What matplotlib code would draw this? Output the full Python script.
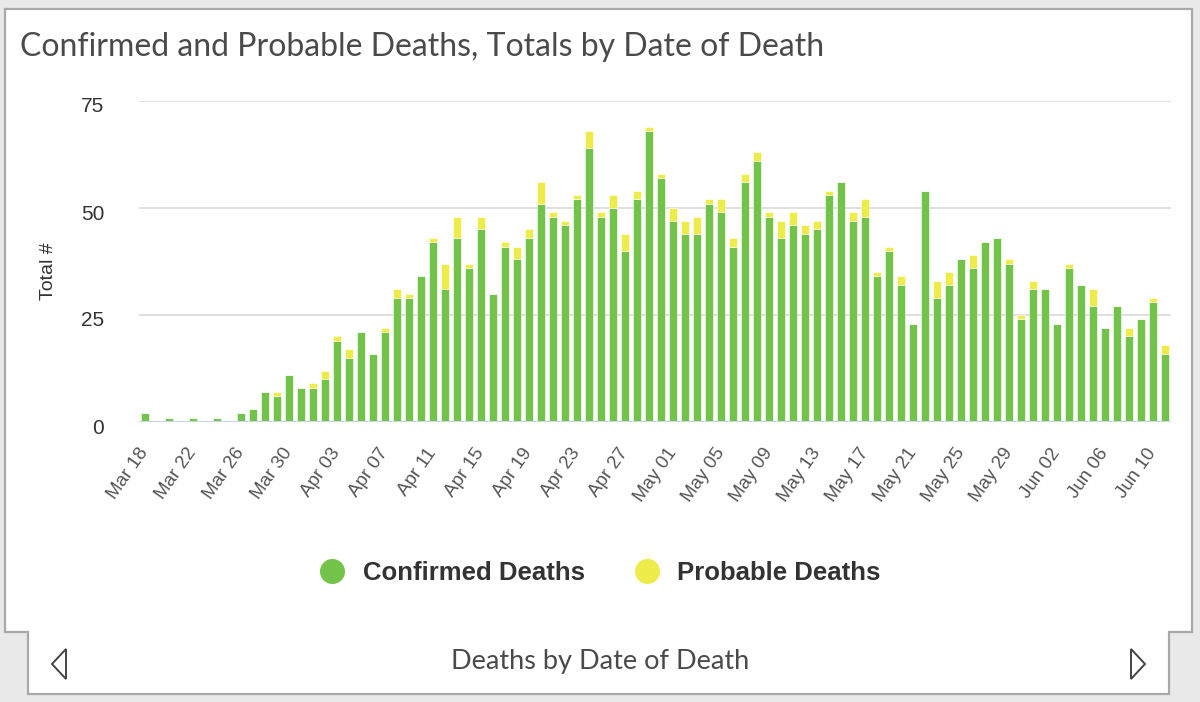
import matplotlib
matplotlib.use("Agg")
import matplotlib.pyplot as plt
import matplotlib.transforms as mtransforms
import numpy as np
import pandas as pd
from matplotlib.lines import Line2D
from matplotlib.patches import Polygon

W, H, DPI = 1200, 702, 100

dates = pd.date_range("2020-03-18", "2020-06-11", freq="D")
confirmed = [
    2, 0, 1, 0, 1, 0, 1, 0, 2, 3, 7, 6, 11, 8,            # Mar 18 - Mar 31
    8, 10, 19, 15, 21, 16, 21, 29, 29, 34, 42, 31, 43, 36,  # Apr 01 - Apr 14
    45, 30, 41, 38, 43, 51, 48, 46, 52, 64, 48, 50, 40, 52,  # Apr 15 - Apr 28
    68, 57,                                                # Apr 29 - Apr 30
    47, 44, 44, 51, 49, 41, 56, 61, 48, 43, 46, 44, 45, 53,  # May 01 - May 14
    56, 47, 48, 34, 40, 32, 23, 54, 29, 32, 38, 36, 42, 43,  # May 15 - May 28
    37, 24, 31,                                            # May 29 - May 31
    31, 23, 36, 32, 27, 22, 27, 20, 24, 28, 16,            # Jun 01 - Jun 11
]
probable = [
    0, 0, 0, 0, 0, 0, 0, 0, 0, 0, 0, 1, 0, 0,
    1, 2, 1, 2, 0, 0, 1, 2, 1, 0, 1, 6, 5, 1,
    3, 0, 1, 3, 2, 5, 1, 1, 1, 4, 1, 3, 4, 2,
    1, 1,
    3, 3, 4, 1, 3, 2, 2, 2, 1, 4, 3, 2, 2, 1,
    0, 2, 4, 1, 1, 2, 0, 0, 4, 3, 0, 3, 0, 0,
    1, 1, 2,
    0, 0, 1, 0, 4, 0, 0, 2, 0, 1, 2,
]
tick_every = 4
series_names = ["Confirmed Deaths", "Probable Deaths"]

GREEN = "#73c24a"
YELLOW = "#eeec4a"
SANS = ["Liberation Sans", "DejaVu Sans"]
ROUND = ["Lato", "DejaVu Sans"]


def fx(px):
    return px / W


def fy(py):
    return 1 - py / H


fig = plt.figure(figsize=(W / DPI, H / DPI), dpi=DPI)
fig.patch.set_facecolor("#e9e9e9")

# card with the tab underneath
card = [(5, 9), (1192, 9), (1192, 632), (1169, 632), (1169, 694),
        (28, 694), (28, 632), (5, 632)]
fig.patches.append(Polygon([(fx(a), fy(b)) for a, b in card], closed=True,
                           transform=fig.transFigure, facecolor="white",
                           edgecolor="#a9a9a9", linewidth=1.6, zorder=-2))
for tri in ([(52, 664), (66, 649), (66, 679)], [(1145, 664), (1131, 649), (1131, 679)]):
    fig.patches.append(Polygon([(fx(a), fy(b)) for a, b in tri], closed=True,
                               transform=fig.transFigure, facecolor="none",
                               edgecolor="#444444", linewidth=1.4, zorder=-1))

fig.text(fx(20), fy(56.5), "Confirmed and Probable Deaths, Totals by Date of Death",
         family=ROUND, fontsize=23, color="#4a4a4a", va="baseline")
fig.text(fx(600), fy(669), "Deaths by Date of Death", family=ROUND,
         fontsize=19.5, color="#4a4a4a", ha="center", va="baseline")

ax = fig.add_axes([fx(139), fy(422), fx(1171) - fx(139), fy(101) - fy(422)])
ax.set_facecolor("none")

x = np.arange(len(dates))
ax.bar(x, confirmed, width=0.6, color=GREEN, edgecolor="white", linewidth=0.4, zorder=3)
ax.bar(x, probable, width=0.6, bottom=confirmed, color=YELLOW, edgecolor="white",
       linewidth=0.4, zorder=3)

ax.set_xlim(-0.5, len(dates) - 0.5)
ax.set_ylim(0, 75)
ax.set_yticks([0, 25, 50, 75])
ax.yaxis.grid(True, color="#e0e0e0", linewidth=1.4)
ax.set_axisbelow(True)
for s in ax.spines.values():
    s.set_visible(False)
ax.axhline(0, color="#ccd6eb", linewidth=1.5, zorder=4)

ticks = x[::tick_every]
ax.set_xticks(ticks)
ax.set_xticklabels([d.strftime("%b %d") for d in dates[::tick_every]], rotation=55,
                   ha="right", va="center", rotation_mode="anchor",
                   family=SANS, fontsize=13.5, color="#555555")
ax.tick_params(axis="x", length=0, pad=20)
ax.tick_params(axis="y", length=0, pad=25, labelsize=15, labelcolor="#333333")
shift = mtransforms.ScaledTranslation(0, -4 / DPI, fig.dpi_scale_trans)
for lbl in ax.get_yticklabels():
    lbl.set_family(SANS)
    lbl.set_transform(lbl.get_transform() + shift)

ax.set_ylabel("Total #", family=SANS, fontsize=14, color="#333333")
ax.yaxis.set_label_coords(-0.079, 0.47)

handles = [Line2D([], [], marker="o", linestyle="", markersize=17, color=c, label=n)
           for c, n in zip([GREEN, YELLOW], series_names)]
fig.legend(handles=handles, loc="center", bbox_to_anchor=(0.5, fy(573)), ncol=2,
           frameon=False, handlelength=1.0, handletextpad=0.7, columnspacing=1.9,
           prop={"family": SANS, "weight": "bold", "size": 18.5},
           labelcolor="#333333")

fig.savefig("out.png", dpi=DPI)
